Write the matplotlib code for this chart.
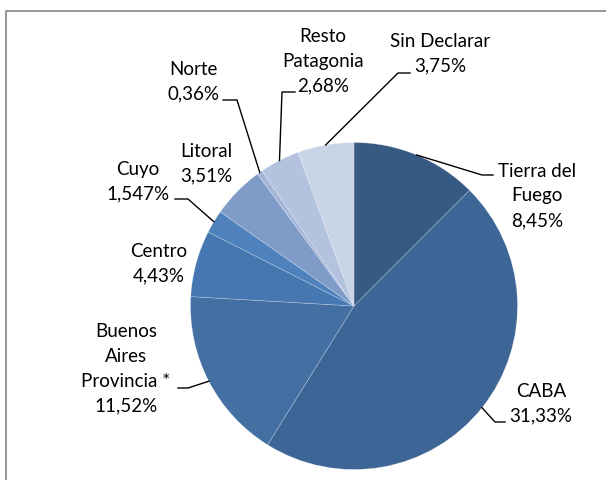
import numpy as np
import matplotlib
matplotlib.use("Agg")
import matplotlib.pyplot as plt

# ---- data ----
categories = ["Tierra del\nFuego", "CABA", "Buenos\nAires\nProvincia *", "Centro",
              "Cuyo", "Litoral", "Norte", "Resto\nPatagonia", "Sin Declarar"]
values = [8.45, 31.33, 11.52, 4.43, 1.547, 3.51, 0.36, 2.68, 3.75]
value_labels = ["8,45%", "31,33%", "11,52%", "4,43%", "1,547%", "3,51%", "0,36%", "2,68%", "3,75%"]
colors = ["#365a83", "#3d6595", "#436fa3", "#4777b1", "#4f81bd",
          "#7f9cc8", "#a4b5d8", "#b3c3df", "#c9d4e7"]

# ---- layout (pixel coordinates, y measured from top) ----
W, H = 606, 480
center = (354, 306)
radius = 163.5
label_pos = [(537, 196), (541, 403.5), (126, 368.75), (159, 264), (138, 182),
             (206, 164), (193, 81.5), (323, 61), (440, 54)]
# leader elbows and ends (None => no leader)
leaders = [((482, 175), (493, 175)),
           ((495, 422), (505, 422)),
           ((188, 388), (178, 388)),
           None,
           ((188, 199), (175, 199)),
           None,
           ((237, 100), (223, 100)),
           ((282, 92), (295, 92)),
           ((398, 73), (410, 73))]

plt.rcParams['font.family'] = ['Lato', 'DejaVu Sans']

fig = plt.figure(figsize=(W / 100, H / 100), dpi=100)
ax = fig.add_axes([0, 0, 1, 1])

def fy(y):
    return H - y

wedges, _ = ax.pie(values, colors=colors, startangle=90, counterclock=False,
                   center=(center[0], fy(center[1])), radius=radius,
                   wedgeprops=dict(edgecolor=(1, 1, 1, 0.3), linewidth=0.5),
                   frame=True)
ax.set_xlim(0, W)
ax.set_ylim(0, H)
ax.set_aspect('equal')
ax.axis('off')

# frame
ax.plot([6, 6, W + 5], [-5, fy(11), fy(11)], color="#8c8c8c", lw=1.3,
        solid_capstyle='butt', clip_on=False)

for i, w in enumerate(wedges):
    lx, ly = label_pos[i]
    ax.text(lx, fy(ly), categories[i] + "\n" + value_labels[i], ha='center', va='center',
            fontsize=13.5, color="black", linespacing=1.55)
    if leaders[i] is not None:
        mid = np.deg2rad((w.theta1 + w.theta2) / 2)
        sx = center[0] + radius * np.cos(mid)
        sy = fy(center[1]) + radius * np.sin(mid)
        (ex, ey), (tx, ty) = leaders[i]
        ax.plot([sx, ex, tx], [sy, fy(ey), fy(ty)], color="black", lw=1.0)

fig.savefig("out.png", dpi=100)
